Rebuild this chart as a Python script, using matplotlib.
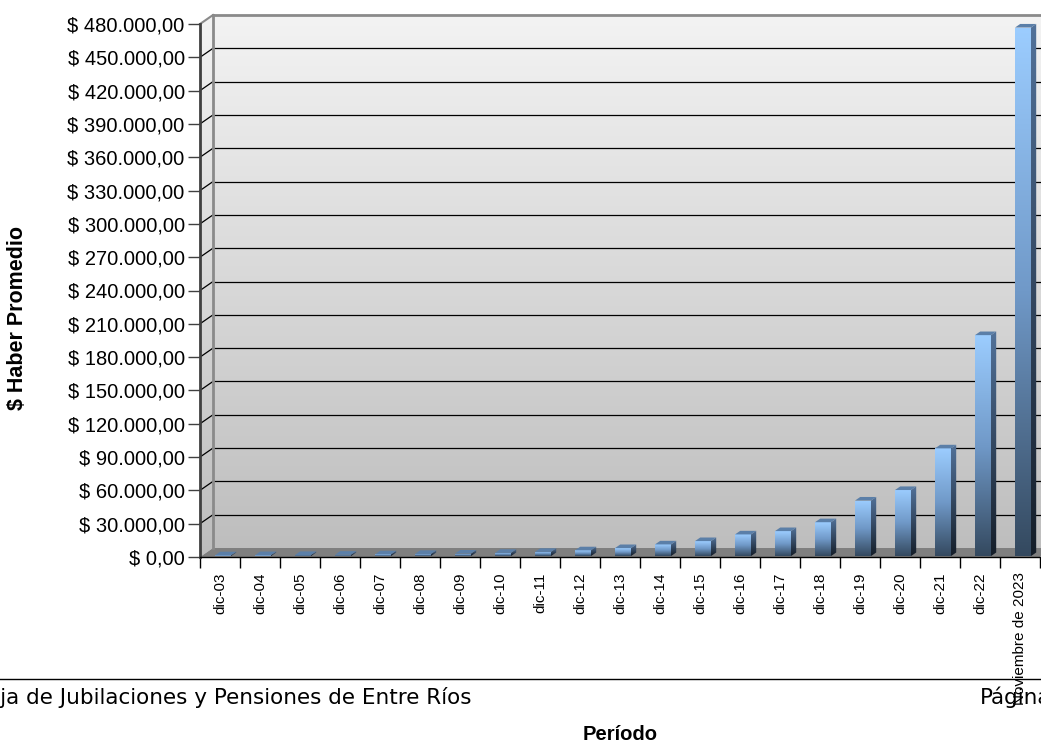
import numpy as np
import matplotlib
matplotlib.use("Agg")
import matplotlib.pyplot as plt
from matplotlib.patches import Polygon
from matplotlib.colors import LinearSegmentedColormap
from matplotlib.lines import Line2D

plt.rcParams["font.family"] = ["Liberation Sans", "DejaVu Sans"]

# datos
categories = ["dic-03", "dic-04", "dic-05", "dic-06", "dic-07", "dic-08", "dic-09",
              "dic-10", "dic-11", "dic-12", "dic-13", "dic-14", "dic-15", "dic-16",
              "dic-17", "dic-18", "dic-19", "dic-20", "dic-21", "dic-22",
              "Noviembre de 2023"]
haber_promedio = [700, 850, 1000, 1250, 1550, 1950, 2250, 2900, 3800, 5200, 7200,
                  10500, 13500, 19500, 22500, 30500, 50000, 59500, 97000, 199000,
                  476000]
y_ticks = list(range(0, 480001, 30000))


def fmt_pesos(v):
    s = f"{v:,.2f}".replace(",", "X").replace(".", ",").replace("X", ".")
    return f"$ {s}"


W, H = 1041, 742
fig = plt.figure(figsize=(W / 100, H / 100), dpi=100)
fig.patch.set_facecolor("white")
ax = fig.add_axes([200 / W, (H - 557) / H, 840 / W, 533 / H])
ax.set_facecolor("none")
n = len(categories)
YMAX = 480000
ax.set_xlim(-0.5, n - 0.5)
ax.set_ylim(0, YMAX)

# profundidad 3D en unidades de datos
px_x = n / 840
px_y = YMAX / 533
DX, DY = 13 * px_x, 9 * px_y

grad = np.linspace(0, 1, 256).reshape(-1, 1)
wall_cmap = LinearSegmentedColormap.from_list("wall", ["#bdbdbd", "#f3f3f3"])
front_cmap = LinearSegmentedColormap.from_list("front", ["#34495f", "#7099c8", "#9ccdff"])
side_cmap = LinearSegmentedColormap.from_list("side", ["#151e29", "#52729a"])


def grad_fill(verts, cmap, z):
    xs = [p[0] for p in verts]
    ys = [p[1] for p in verts]
    patch = Polygon(verts, closed=True, facecolor="none", edgecolor="none",
                    transform=ax.transData)
    im = ax.imshow(grad, cmap=cmap, origin="lower", aspect="auto",
                   extent=(min(xs), max(xs), min(ys), max(ys)),
                   interpolation="bilinear", zorder=z)
    im.set_clip_path(patch)
    im.set_clip_box(fig.bbox)
    return im


# paredes
left = -0.5
right = n - 0.5
wall = [(left, 0), (left, YMAX), (left + DX, YMAX + DY), (right + DX, YMAX + DY),
        (right + DX, DY), (left + DX, DY)]
grad_fill(wall, wall_cmap, 0)

floor = Polygon([(left, 0), (right, 0), (right + DX, DY), (left + DX, DY)],
                closed=True, facecolor="#7f7f7f", edgecolor="none", zorder=1,
                clip_on=False)
ax.add_patch(floor)

for t in y_ticks[1:-1]:
    ax.plot([left + DX, right + DX], [t + DY, t + DY], color="black", lw=0.9,
            zorder=1, clip_on=False)
    ax.plot([left, left + DX], [t, t + DY], color="black", lw=0.9, zorder=1,
            clip_on=False)
ax.plot([left + DX, right + DX], [YMAX + DY, YMAX + DY], color="#8a8a8a", lw=2,
        zorder=1, clip_on=False)
ax.plot([left, left + DX], [YMAX, YMAX + DY], color="#8a8a8a", lw=1.5, zorder=1,
        clip_on=False)
ax.plot([left + DX, left + DX], [DY, YMAX + DY], color="#8a8a8a", lw=2, zorder=1,
        clip_on=False)

# barras 3D
bw = 0.4
BX, BY = 0.4 * DX, 0.4 * DY
y0 = 0.1 * DY
for i, v in enumerate(haber_promedio):
    x0 = i - 0.125
    grad_fill([(x0, y0), (x0 + bw, y0), (x0 + bw, y0 + v), (x0, y0 + v)], front_cmap, 3)
    grad_fill([(x0 + bw, y0), (x0 + bw, y0 + v), (x0 + bw + BX, y0 + v + BY),
               (x0 + bw + BX, y0 + BY)], side_cmap, 3)
    top = Polygon([(x0, y0 + v), (x0 + bw, y0 + v), (x0 + bw + BX, y0 + v + BY),
                   (x0 + BX, y0 + v + BY)], closed=True, facecolor="#5b7fa8",
                  edgecolor="none", zorder=4, clip_on=False)
    ax.add_patch(top)

# ejes
ax.plot([left, left], [0, YMAX], color="#404040", lw=2, zorder=5, clip_on=False)
ax.plot([left, right], [0, 0], color="black", lw=1, zorder=5, clip_on=False)
for s in ax.spines.values():
    s.set_visible(False)

ax.set_yticks(y_ticks, labels=[fmt_pesos(t) for t in y_ticks], fontsize=14.5)
ax.tick_params(axis="y", length=9, width=1, color="#404040", pad=2)
ax.set_xticks(range(n), labels=categories, rotation=90, fontsize=11)
ax.set_xticks(np.arange(-0.5, n, 1), minor=True)
ax.tick_params(axis="x", which="major", length=0, pad=11)
ax.tick_params(axis="x", which="minor", length=8, width=1, color="black")
for lab in ax.get_xticklabels():
    lab.set_va("top")

fig.text(18 / W, 1 - 318 / H, "$ Haber Promedio", rotation=90, ha="center",
         va="center", fontweight="bold", fontsize=15.5)

# pie de pagina
fig.add_artist(Line2D([0, 1], [1 - 679 / H, 1 - 679 / H], color="black", lw=1,
                      transform=fig.transFigure))
fig.text(-28 / W, 1 - 697 / H, "Caja de Jubilaciones y Pensiones de Entre Ríos",
         ha="left", va="center", fontfamily="DejaVu Sans", fontsize=15.5)
fig.text(980 / W, 1 - 697 / H, "Página", ha="left", va="center",
         fontfamily="DejaVu Sans", fontsize=15.5)
fig.text(620 / W, 1 - 734 / H, "Período", ha="center", va="center",
         fontweight="bold", fontsize=14.5)

fig.savefig("out.png", dpi=100)
